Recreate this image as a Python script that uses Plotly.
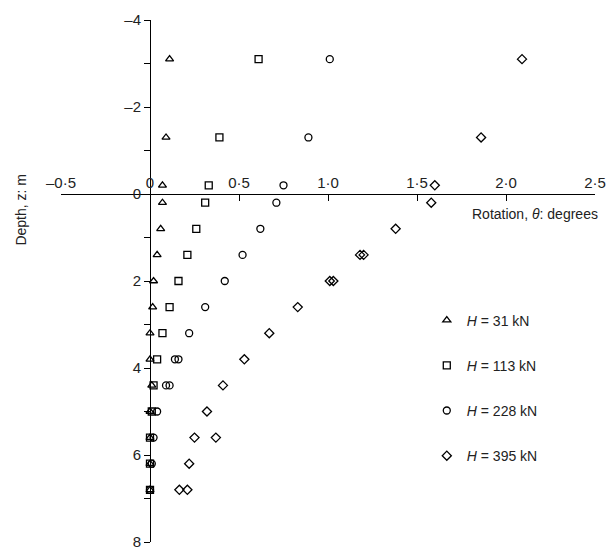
import plotly.graph_objects as go

# depth z (m) at each measurement level; duplicates where two points overlap
depth = [-3.1, -1.3, -0.2, 0.2, 0.8, 1.4, 2.0, 2.6, 3.2, 3.8, 4.4, 5.0, 5.6, 6.2, 6.8]

rot_31 = [0.11, 0.09, 0.07, 0.07, 0.06, 0.04, 0.02, 0.015, 0.0, 0.0, 0.01, 0.0, 0.0, 0.0, 0.0]
rot_113 = [0.61, 0.39, 0.33, 0.31, 0.26, 0.21, 0.16, 0.11, 0.07, 0.04, 0.02, 0.01, 0.0, 0.0, 0.0]

depth_228 = [-3.1, -1.3, -0.2, 0.2, 0.8, 1.4, 2.0, 2.6, 3.2, 3.8, 3.8, 4.4, 4.4, 5.0, 5.6, 6.2, 6.8]
rot_228 = [1.01, 0.89, 0.75, 0.71, 0.62, 0.52, 0.42, 0.31, 0.22, 0.14, 0.16, 0.09, 0.11, 0.04, 0.02, 0.01, 0.0]

depth_395 = [-3.1, -1.3, -0.2, 0.2, 0.8, 1.4, 1.4, 2.0, 2.0, 2.6, 3.2, 3.8, 4.4, 5.0, 5.6, 5.6, 6.2, 6.8, 6.8]
rot_395 = [2.09, 1.86, 1.60, 1.58, 1.38, 1.18, 1.20, 1.01, 1.03, 0.83, 0.67, 0.53, 0.41, 0.32, 0.25, 0.37, 0.22, 0.165, 0.21]

series = [
    ("<i>H</i> = 31 kN", rot_31, depth, "triangle-up-open"),
    ("<i>H</i> = 113 kN", rot_113, depth, "square-open"),
    ("<i>H</i> = 228 kN", rot_228, depth_228, "circle-open"),
    ("<i>H</i> = 395 kN", rot_395, depth_395, "diamond-open"),
]

x_ticks = [-0.5, 0, 0.5, 1.0, 1.5, 2.0, 2.5]
x_labels = ["\u20130\u00b75", "0", "0\u00b75", "1\u00b70", "1\u00b75", "2\u00b70", "2\u00b75"]
y_ticks = [-4, -2, 0, 2, 4, 6, 8]
y_labels = ["\u20134", "\u20132", "0", "2", "4", "6", "8"]

fig = go.Figure()
for i, (name, xs, ys, sym) in enumerate(series):
    fig.add_trace(go.Scatter(
        x=xs, y=ys, name=name, mode="markers", legendgroup=str(i),
        marker=dict(symbol=sym, size=7, color="black", line=dict(width=1.3, color="#222")),
    ))

fig.update_layout(
    width=614, height=548,
    margin=dict(l=53, r=27, t=12, b=14, autoexpand=False),
    plot_bgcolor="white", paper_bgcolor="white",
    font=dict(family="Liberation Sans, Arial", size=15, color="#222"),
    legend=dict(x=0.685, y=0.455, xanchor="left", yanchor="top", tracegroupgap=24,
                font=dict(size=14), itemwidth=30),
    xaxis=dict(range=[-0.5, 2.5], tickvals=x_ticks, ticktext=x_labels, automargin=False,
               anchor="free", position=8 / 12, side="top", ticks="inside", ticklen=6,
               tickcolor="black", tickfont=dict(color="#222"),
               showline=True, linecolor="black", linewidth=1, showgrid=False, zeroline=False),
    yaxis=dict(range=[8, -4], tickvals=y_ticks, ticktext=y_labels, automargin=False,
               anchor="free", position=0.5 / 3, ticks="outside", ticklen=6,
               tickcolor="black", tickfont=dict(color="#222"),
               minor=dict(tickvals=[-3, -1, 1, 3, 5, 7], ticks="outside", ticklen=6, tickcolor="black"),
               showline=True, linecolor="black", linewidth=1, showgrid=False, zeroline=False),
    annotations=[
        dict(text="Rotation, <i>\u03b8</i>: degrees", xref="paper", yref="paper",
             x=1.01, y=8 / 12 - 0.02, xanchor="right", yanchor="top", showarrow=False,
             font=dict(size=14)),
        dict(text="Depth, z: m", xref="paper", yref="paper", x=-0.075, y=8 / 12 - 0.03,
             xanchor="center", yanchor="middle", textangle=-90, showarrow=False,
             font=dict(size=14, color="#222")),
    ],
)

fig.write_html("out.html")
